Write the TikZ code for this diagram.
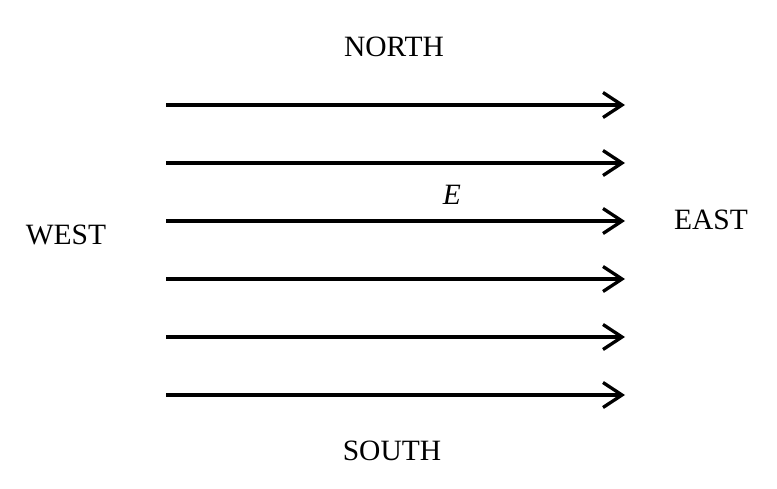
\documentclass[tikz,border=0pt]{standalone}
\usepackage{fontspec}
\setmainfont{Liberation Serif}
\usetikzlibrary{arrows.meta}
\begin{document}
\begin{tikzpicture}[x=1pt,y=-1pt,
  lbl/.style={inner sep=0pt,font=\fontsize{29.5}{32}\selectfont},
  field/.style={line width=3.3pt,-{Straight Barb[length=19pt,width=25pt,line width=3.3pt]}}]
\useasboundingbox (0,0) rectangle (777,489);
\node[lbl] (north) at (394,47) {NORTH};
\node[lbl] (south) at (392,451) {SOUTH};
\node[lbl] (west) at (66,235) {WEST};
\node[lbl] (east) at (711,220) {EAST};
\node[lbl] (elabel) at (452,195) {\textit{E}};
\foreach \i/\y in {1/105,2/163,3/221,4/279,5/337,6/395}{
  \coordinate (s\i) at (166,\y);
  \coordinate (t\i) at (625,\y);
  \draw[field] (s\i) -- (t\i);
}
\end{tikzpicture}
\end{document}
